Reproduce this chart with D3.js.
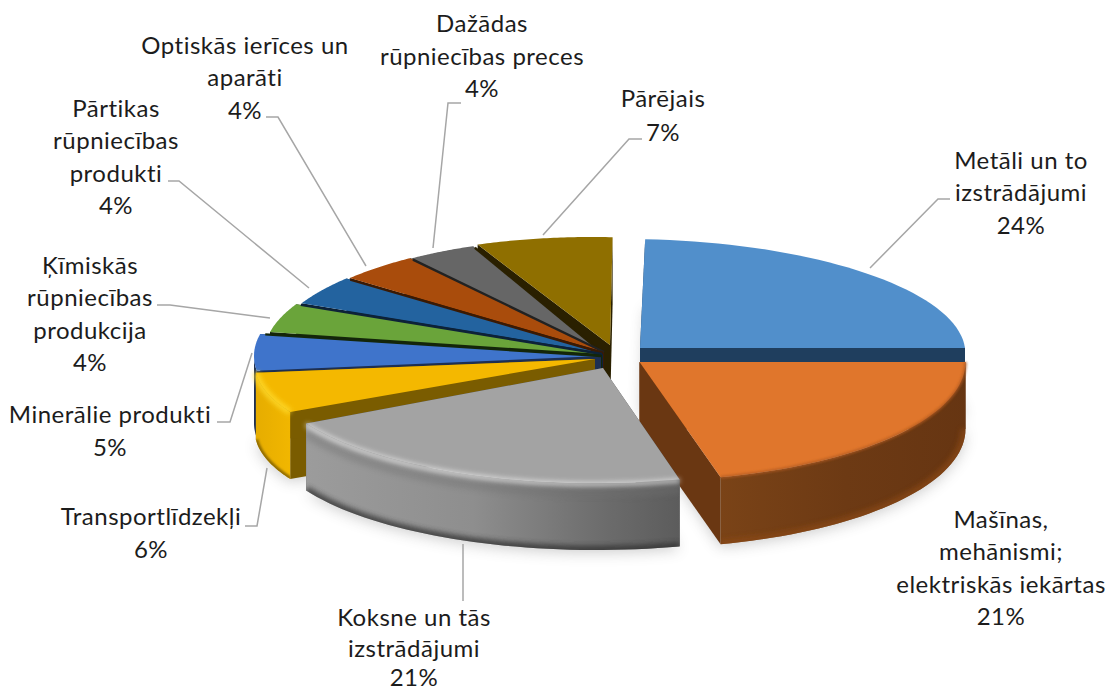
<!DOCTYPE html>
<html><head><meta charset="utf-8">
<script src="https://cdn.jsdelivr.net/npm/d3@7"></script>
<style>html,body{margin:0;padding:0;background:#fff}svg{display:block}text{font-family:Lato,"Noto Sans",sans-serif;font-size:24px;letter-spacing:.5px;fill:#1c1c1c}</style>
</head><body>
<svg id="c" width="1109" height="692"></svg>
<script>
const categories = ["Metāli un to izstrādājumi","Mašīnas, mehānismi; elektriskās iekārtas","Koksne un tās izstrādājumi","Transportlīdzekļi","Minerālie produkti","Ķīmiskās rūpniecības produkcija","Pārtikas rūpniecības produkti","Optiskās ierīces un aparāti","Dažādas rūpniecības preces","Pārējais"];
const values = [24,21,21,6,5,4,4,4,4,7];
const labelLines = [["Metāli un to","izstrādājumi"],["Mašīnas,","mehānismi;","elektriskās iekārtas"],["Koksne un tās","izstrādājumi"],["Transportlīdzekļi"],["Minerālie produkti"],["Ķīmiskās","rūpniecības","produkcija"],["Pārtikas","rūpniecības","produkti"],["Optiskās ierīces un","aparāti"],["Dažādas","rūpniecības preces"],["Pārējais"]];
const topColors = ["#518fcb","#e0762c","#a3a3a3","#f4b800","#3f74cb","#6aa43a","#23639f","#a94c0c","#666666","#8f6f00"];
const cutColors = ["#1f3e5e","#6a3712","#4a4a4a","#7a5c00","#1d2f52","#14260a","#0d2238","#3a1a04","#222222","#2a2000"];

// layout of each exploded wedge: apex, radii and the lean of the 3-D view
const geom = [
 {ox:640,oy:348,rx:325,ry:109,s:.14},
 {ox:639.5,oy:362,rx:326,ry:119,s:0},
 {ox:603,oy:368,rx:335,ry:115,s:-.06},
 {ox:595,oy:359,rx:340,ry:110,s:-.13},
 {ox:601,oy:356,rx:347,ry:117,s:0},
 {ox:602,oy:354,rx:338,ry:117,s:0},
 {ox:603,oy:353,rx:333,ry:117,s:0},
 {ox:604,oy:352,rx:330,ry:116,s:0},
 {ox:604,oy:354,rx:318,ry:116,s:.13},
 {ox:610,oy:345,rx:316,ry:108,s:.16}
];
const depth = 67, rotation = 3.6*Math.PI/180;
const drawOrder = [9,8,7,6,5,4,0,1,3,2];
const labelPos = [
 {x:1021,y:[161,193,226],leader:[[870,268],[938,199],[950,199]]},
 {x:1001,y:[520,552,585,617],leader:null},
 {x:414,y:[618,649,678],leader:[[463,544],[463,601]]},
 {x:151,y:[517,550],leader:[[267,468],[257,526],[245,526]]},
 {x:110,y:[415,448],leader:[[252,353],[230,422],[217,422]]},
 {x:90,y:[266,298,331,363],leader:[[270,318],[170,305],[157,305]]},
 {x:116,y:[109,141,174,206],leader:[[309,288],[179,181],[168,181]]},
 {x:245,y:[46,78,111],leader:[[366,266],[278,117],[266,117]]},
 {x:482,y:[24,57,89],leader:[[433,248],[448,103],[461,103]]},
 {x:663,y:[99,133],leader:[[543,235],[629,139],[642,139]]}
];

const svg = d3.select("#c"), defs = svg.append("defs");
const blur = (id,sd)=>defs.append("filter").attr("id",id).attr("x","-30%").attr("y","-30%").attr("width","160%").attr("height","160%").append("feGaussianBlur").attr("stdDeviation",sd);
blur("b1",1.2); blur("b2",2.5); blur("b6",7);
const hGrad=(id,stops,x1,x2)=>{const g=defs.append("linearGradient").attr("id",id).attr("gradientUnits","userSpaceOnUse").attr("x1",x1).attr("x2",x2).attr("y1",0).attr("y2",0);
 stops.forEach(([o,c])=>g.append("stop").attr("offset",o).attr("stop-color",c));};
hGrad("w2",[[0,"#9c9c9c"],[.45,"#8e8e8e"],[.8,"#6c6c6c"],[1,"#5c5c5c"]],303,680);
hGrad("w1",[[0,"#7a4317"],[.5,"#6d3a14"],[1,"#663512"]],720,972);
hGrad("w3",[[0,"#e4ab00"],[1,"#f2b700"]],250,292);

const pie = d3.pie().sort(null).value(d=>d).startAngle(rotation).endAngle(rotation+2*Math.PI);
const arcs = pie(values);
const pt = (g,a,h=0)=>{const dy=-Math.cos(a)*g.ry;return [g.ox+Math.sin(a)*g.rx+g.s*dy, g.oy+dy+h];};
const rimPts=(g,a0,a1,h=0)=>d3.range(0,41).map(i=>pt(g,a0+(a1-a0)*i/40,h));
const line=d3.line().curve(d3.curveLinear);
const wedge=(g,a0,a1)=>line([[g.ox,g.oy],...rimPts(g,a0,a1)])+"Z";
const quad=(p,q)=>line([p,q,[q[0],q[1]+depth],[p[0],p[1]+depth]])+"Z";

// soft shadow beneath the front wedges
const sh=svg.append("g").attr("filter","url(#b6)").attr("opacity",.28);
[0,1,2,3].forEach(i=>{const g=geom[i],a=arcs[i];
 const p=[[g.ox,g.oy+depth],...rimPts(g,a.startAngle,a.endAngle,depth+3)];
 sh.append("path").attr("d",line(p)+"Z").attr("fill","#555");});

drawOrder.forEach(i=>{
 const g=geom[i],a=arcs[i],a0=a.startAngle,a1=a.endAngle,G=svg.append("g");
 const apex=[g.ox,g.oy];
 // cut faces
 G.append("path").attr("d",quad(apex,pt(g,a0))).attr("fill",cutColors[i]);
 G.append("path").attr("d",quad(apex,pt(g,a1))).attr("fill",cutColors[i]);
 // outer wall, only the part that faces the viewer
 const w0=Math.max(a0,Math.PI/2), w1=Math.min(a1,3*Math.PI/2);
 if(w1>w0){
  const top=rimPts(g,w0,w1), bot=rimPts(g,w0,w1,depth);
  const wp=line([...top,...bot.reverse()])+"Z";
  const fill=i==2?"url(#w2)":i==1?"url(#w1)":i==3?"url(#w3)":cutColors[i];
  G.append("path").attr("d",wp).attr("fill",fill);
  const cid="cw"+i;
  defs.append("clipPath").attr("id",cid).append("path").attr("d",wp);
  const C=G.append("g").attr("clip-path",`url(#${cid})`);
  if(i==2){
   C.append("path").attr("d",line(rimPts(g,w0,w1,depth))).attr("fill","none").attr("stroke","#333").attr("stroke-width",9).attr("filter","url(#b2)").attr("opacity",.75);
   C.append("path").attr("d",line(rimPts(g,w0,w1,10))).attr("fill","none").attr("stroke","#6f6f6f").attr("stroke-width",10).attr("filter","url(#b2)").attr("opacity",.35);
  }
  if(i==1){
   C.append("path").attr("d",line(rimPts(g,w0,w1,depth))).attr("fill","none").attr("stroke","#8a4a18").attr("stroke-width",10).attr("filter","url(#b2)").attr("opacity",.7);
  }
  if(i==3){
   C.append("path").attr("d",line(rimPts(g,w0,w1,depth))).attr("fill","none").attr("stroke","#7a5c00").attr("stroke-width",5).attr("filter","url(#b1)").attr("opacity",.8);
  }
 }
 // top face
 G.append("path").attr("d",wedge(g,a0,a1)).attr("fill",topColors[i]);
 // rim bevel
 if(i==2||i==3){
  G.append("path").attr("d",line(rimPts(g,w0,w1,i==2?1:0))).attr("fill","none")
   .attr("stroke",i==2?"#e6e6e6":"#ffdc2e").attr("stroke-width",i==2?4:6).attr("filter","url(#b2)").attr("opacity",.85);
 }
 if(i==1){
  G.append("path").attr("d",line(rimPts(g,w0,w1,0))).attr("fill","none").attr("stroke","#b05a20").attr("stroke-width",3).attr("filter","url(#b1)").attr("opacity",.7);
 }
 // dark gap towards the wedge behind
 if(i>=4&&i<=8){
  const e=pt(g,a1), end=[apex[0]+(e[0]-apex[0])*.985, apex[1]+(e[1]-apex[1])*.985];
  G.append("path").attr("d",line([apex,end])).attr("fill","none").attr("stroke",cutColors[i+1]).attr("stroke-width",2.4);
 }
});

// leader lines
svg.append("g").selectAll("path").data(labelPos.filter(d=>d.leader)).join("path")
 .attr("d",d=>line(d.leader)).attr("fill","none").attr("stroke","#a6a6a6").attr("stroke-width",1.5);

// labels
const total=d3.sum(values);
labelPos.forEach((p,i)=>{
 const lines=[...labelLines[i],d3.format(".0%")(values[i]/total)];
 const t=svg.append("text").attr("text-anchor","middle");
 lines.forEach((s,k)=>t.append("tspan").attr("x",p.x).attr("y",p.y[k]).attr("dy","0.35em").text(s));
});
</script>
</body></html>
